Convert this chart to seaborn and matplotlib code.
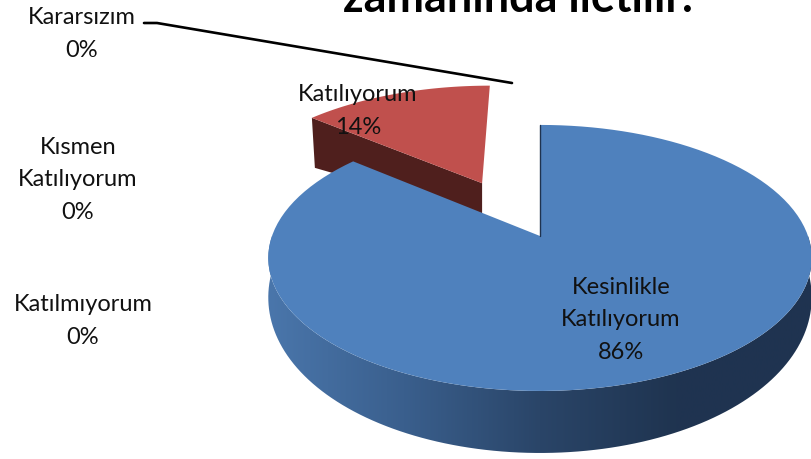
import numpy as np
import matplotlib
matplotlib.use("Agg")
import matplotlib.pyplot as plt
import seaborn as sns
from matplotlib.patches import Polygon

# chart values
categories = ["Kesinlikle\nKatılıyorum", "Katılıyorum", "Kararsızım", "Kısmen\nKatılıyorum", "Katılmıyorum"]
values = [86, 14, 0, 0, 0]
label_x = [621, 358, 82, 78, 83]
label_y = [320, 111, 34, 180, 321]
title = "zamanında iletilir."

sns.set_theme(style="white")
plt.rcParams["font.family"] = ["Lato", "DejaVu Sans"]

BLUE, RED = "#4f81bd", "#c0504d"
wall_cmap = sns.blend_palette(["#4a76ab", "#3a5f8d", "#2a4568", "#1f3450", "#1f3350"], 64, as_cmap=True)

# perspective of the pie plane, in pixels of the picture
CX, CY, RX, RY, K = 540, 236, 268, 129.4, 0.165


def project(xs, ys):
    w = 1 + K * ys
    return CX + RX * xs / w, CY - RY * ys / w


def rim(a0, a1, shift=(0, 0), n=120):
    th = np.radians(np.linspace(a0, a1, n))
    return project(np.sin(th) + shift[0], np.cos(th) + shift[1])


fig = plt.figure(figsize=(8.11, 4.59), dpi=100)
ax = fig.add_axes([0, 0, 1, 1])
ax.set_xlim(0, 811)
ax.set_ylim(459, 0)
ax.axis("off")

blue_sweep = 360 * values[0] / sum(values)

# exploded red slice
mid = np.radians((blue_sweep + 360) / 2 - 2.7)
shift = (0.495 * np.sin(mid), 0.495 * np.cos(mid))
rx, ry = rim(blue_sweep, 360, shift)
ax0, ay0 = project(np.array([shift[0]]), np.array([shift[1]]))
side_x = [ax0[0], rx[0], rx[0] + 3, ax0[0]]
side_y = [ay0[0], ry[0], ry[0] + 50, ay0[0] + 33]
ax.add_patch(Polygon(np.c_[side_x, side_y], fc="#4f1f1d", ec="none", zorder=2))
ax.add_patch(Polygon(np.c_[np.r_[ax0, rx], np.r_[ay0, ry]], fc=RED, ec="none", zorder=3))

# blue slice, wall first. wall gets thinner toward the sides
wx, wy = rim(90, 270)
depth = 35 + 27 * np.abs(np.cos(np.radians(np.linspace(90, 270, 120))))
wy_low = wy + depth
wall = Polygon(np.c_[np.r_[wx, wx[::-1]], np.r_[wy, wy_low[::-1]]], fc="none", ec="none", zorder=4)
ax.add_patch(wall)
grad = ax.imshow(np.linspace(0, 1, 256)[None, :], cmap=wall_cmap, extent=(wx.min(), wx.max(), 459, 0),
                 aspect="auto", zorder=4)
grad.set_clip_path(wall)
ax.set_xlim(0, 811)
ax.set_ylim(459, 0)

bx, by = rim(0, blue_sweep)
ax.add_patch(Polygon(np.c_[np.r_[CX, bx], np.r_[CY, by]], fc=BLUE, ec="none", zorder=5))
ax.plot([bx[0], CX], [by[0], CY], color="#1f3350", lw=1, zorder=6)

# labels
for name, val, x, y in zip(categories, values, label_x, label_y):
    ax.text(x, y, f"{name}\n{val}%", ha="center", va="center", fontsize=17, color="#111111",
            linespacing=1.65, zorder=8)

# leader line of the zero slice
ax.plot([144, 157, 512], [23, 23, 83], color="black", lw=1.9, zorder=7)

ax.text(518, 12, title, ha="center", va="baseline", fontsize=32.4, fontweight="bold", color="black", zorder=8)

fig.savefig("out.png", dpi=100)
